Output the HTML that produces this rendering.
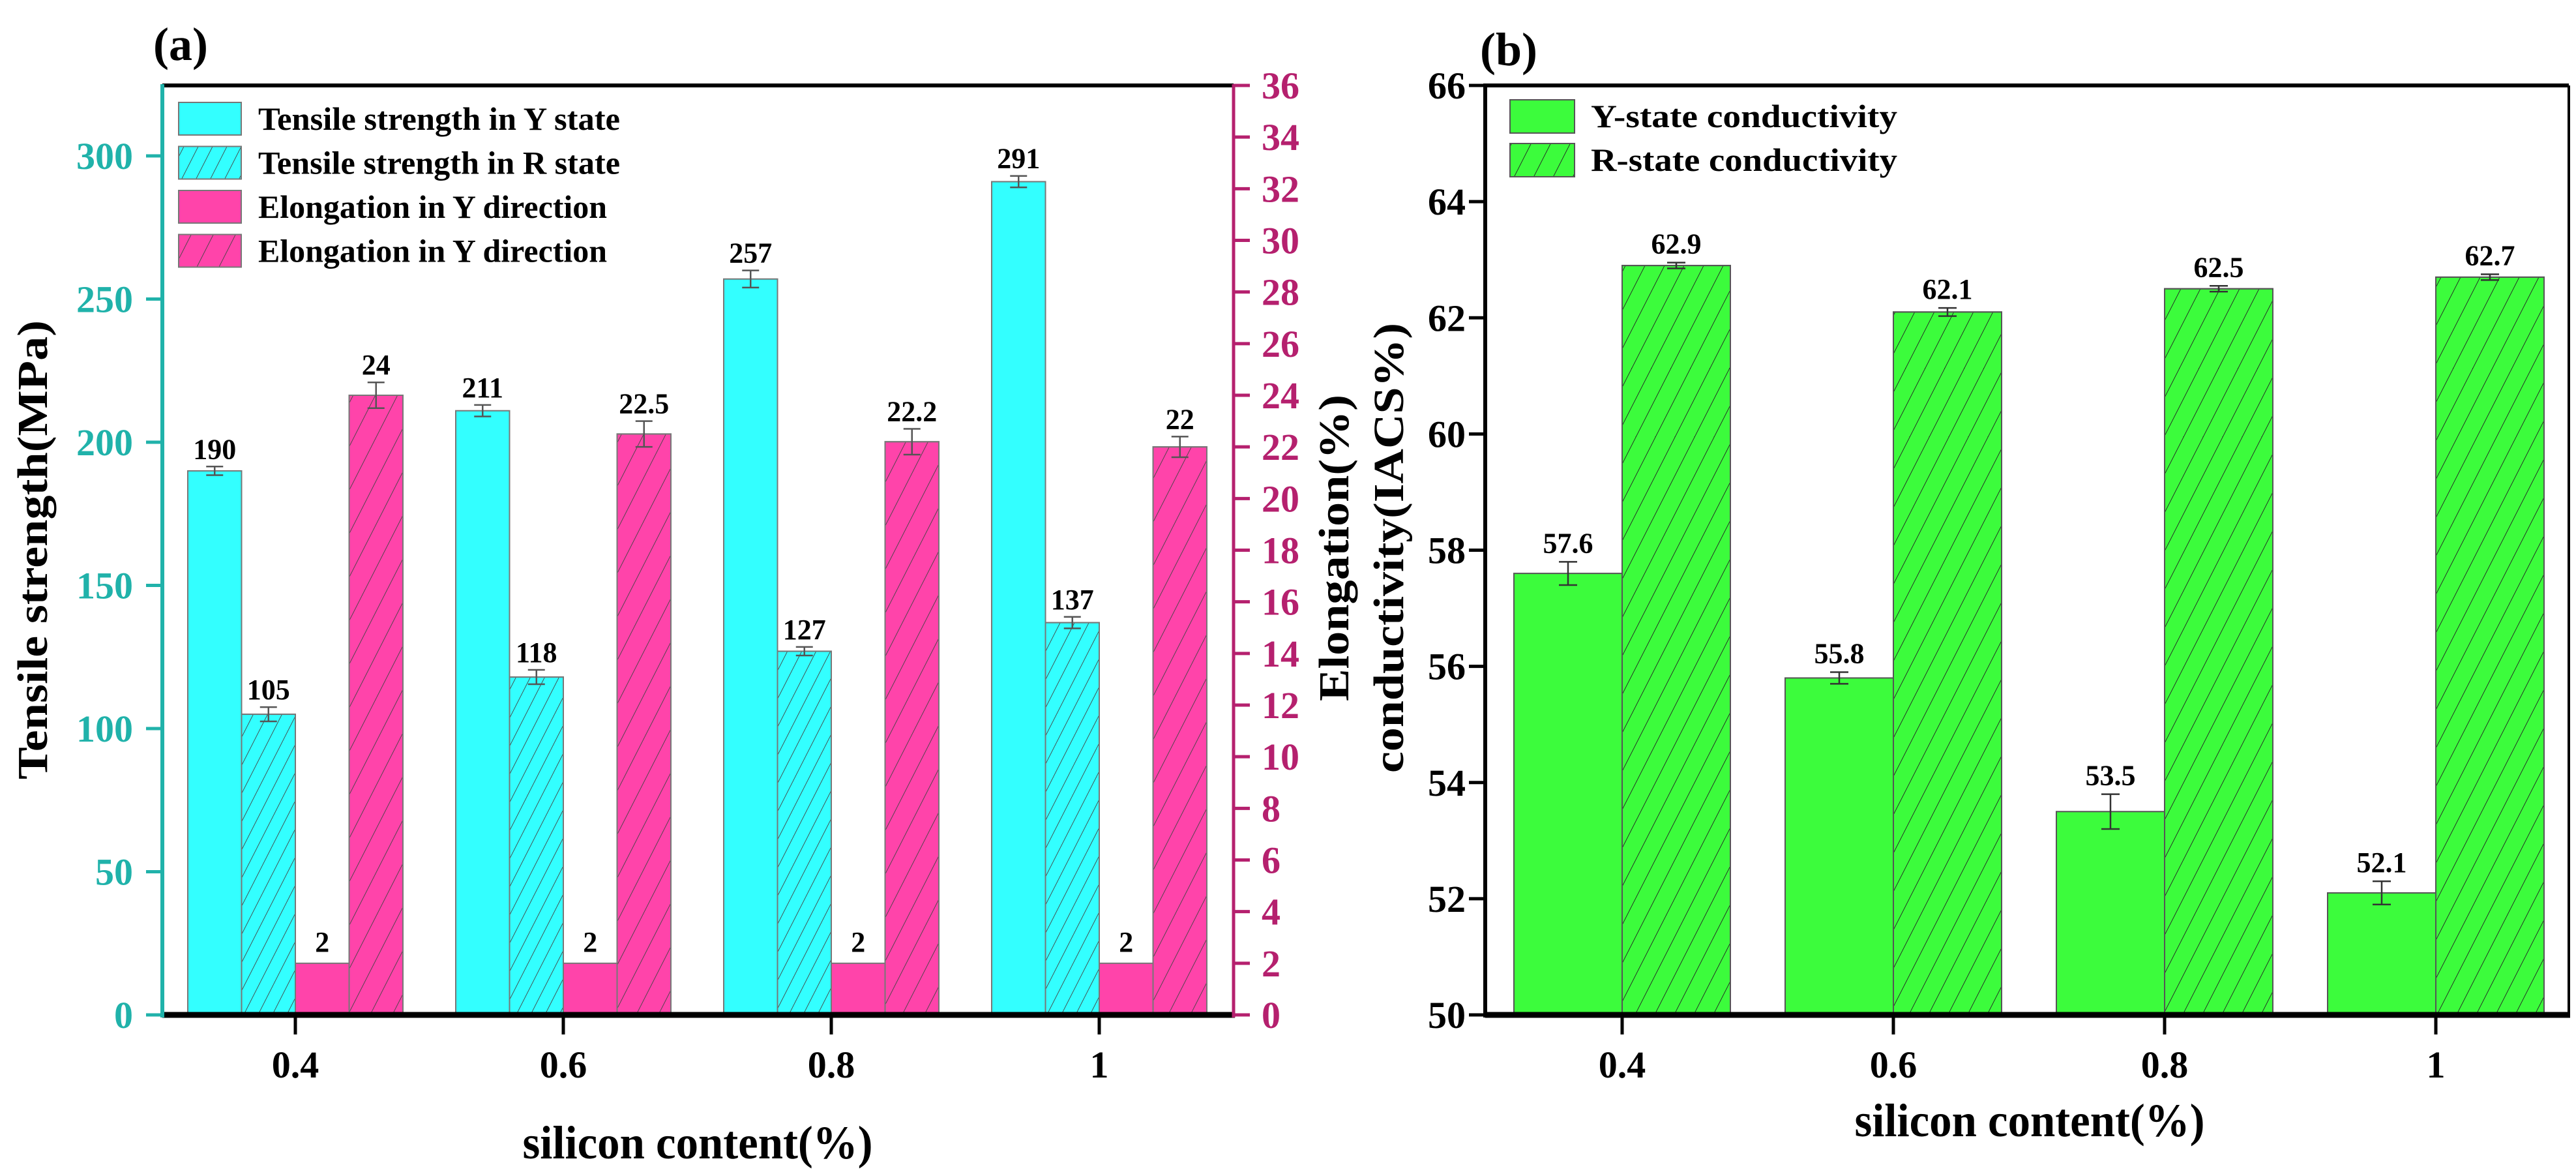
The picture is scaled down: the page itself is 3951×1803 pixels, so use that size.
<!DOCTYPE html>
<html><head><meta charset="utf-8"><style>
html,body{margin:0;padding:0;background:#fff;}
svg, svg text{font-family:"Liberation Serif","DejaVu Serif",serif;font-weight:bold;}
svg{display:block;}
</style></head><body>
<svg id="fig" width="3951" height="1803" viewBox="0 0 3951 1803" xmlns="http://www.w3.org/2000/svg" font-family="Liberation Serif, DejaVu Serif, serif" font-weight="bold">
<defs>
<pattern id="hatchA" patternUnits="userSpaceOnUse" width="22" height="44" patternTransform="skewX(-27)"><line x1="0" y1="0" x2="0" y2="44" stroke="#444" stroke-width="2"/></pattern>
<pattern id="hatchP" patternUnits="userSpaceOnUse" width="34" height="60" patternTransform="skewX(-27)"><line x1="0" y1="0" x2="0" y2="60" stroke="#444" stroke-width="2"/></pattern>
<pattern id="hatchG" patternUnits="userSpaceOnUse" width="30" height="60" patternTransform="skewX(-27)"><line x1="0" y1="0" x2="0" y2="60" stroke="#222" stroke-width="2"/></pattern>
</defs>
<g id="pa"></g>
<g id="pb"></g>
</svg>
<script>
// ---- Panel (a) data ----
const catsA = ["0.4","0.6","0.8","1"];
const tensileY = [190,211,257,291];
const tensileYErr = [1.5,2,3,2];
const tensileR = [105,118,127,137];
const tensileRErr = [2.5,2.5,1.5,2];
const elongY = [2,2,2,2];
const elongR = [24,22.5,22.2,22];
const elongRErr = [0.5,0.5,0.5,0.4];
const leftTicksA = [0,50,100,150,200,250,300];
const rightTicksA = [0,2,4,6,8,10,12,14,16,18,20,22,24,26,28,30,32,34,36];
// ---- Panel (b) data ----
const catsB = ["0.4","0.6","0.8","1"];
const condY = [57.6,55.8,53.5,52.1];
const condYErr = [0.2,0.1,0.3,0.2];
const condR = [62.9,62.1,62.5,62.7];
const condRErr = [0.05,0.07,0.05,0.05];
const ticksB = [50,52,54,56,58,60,62,64,66];

const NS="http://www.w3.org/2000/svg";
function mk(parent,tag,attrs,text){const e=document.createElementNS(NS,tag);for(const k in attrs)e.setAttribute(k,attrs[k]);if(text!==undefined)e.textContent=text;parent.appendChild(e);return e;}

// ===== Panel A =====
const A=document.getElementById('pa');
const aL=249,aR=1892,aT=131,aB=1556;
const yA=v=>aB-(v/324.6)*(aB-aT);
const yE=v=>aB-(v/36)*(aB-aT);
const xA=i=>453+i*411;
const bw=82.5;
function errbar(g,x,y1,y2,w,col){
  let e;
  e=mk(g,'line',{x1:x,x2:x,y1:y1,y2:y2,stroke:col,'stroke-width':2.5});
  
  
  mk(g,'line',{x1:x-w,x2:x+w,y1:y1,y2:y1,stroke:col,'stroke-width':2.5});
  mk(g,'line',{x1:x-w,x2:x+w,y1:y2,y2:y2,stroke:col,'stroke-width':2.5});
}
function label(g,x,y,t,fs){
  const e=mk(g,'text',{x:x,y:y,'text-anchor':'middle','font-size':fs||44,fill:'#000'},t);
  
  
}
function bar(g,x,y,w,h,fill,pat,name){
  const r=mk(g,'rect',{x:x,y:y,width:w,height:h,fill:fill,stroke:'#777','stroke-width':2});
  
  
  if(pat) mk(g,'rect',{x:x,y:y,width:w,height:h,fill:'url(#'+pat+')',stroke:'#777','stroke-width':2});
}
catsA.forEach((c,i)=>{
  const cx=xA(i), x0=cx-2*bw;
  let t=yA(tensileY[i]);
  bar(A,x0,t,bw,aB-t,'#33ffff',null,'bar-tensile-y');
  errbar(A,x0+bw/2,yA(tensileY[i]+tensileYErr[i]),yA(tensileY[i]-tensileYErr[i]),13,'#555');
  label(A,x0+bw/2,yA(tensileY[i]+tensileYErr[i])-12,String(tensileY[i]));
  t=yA(tensileR[i]);
  bar(A,x0+bw,t,bw,aB-t,'#33ffff','hatchA','bar-tensile-r');
  errbar(A,x0+1.5*bw,yA(tensileR[i]+tensileRErr[i]),yA(tensileR[i]-tensileRErr[i]),13,'#555');
  label(A,x0+1.5*bw,yA(tensileR[i]+tensileRErr[i])-12,String(tensileR[i]));
  t=yE(elongY[i]);
  bar(A,x0+2*bw,t,bw,aB-t,'#ff44aa',null,'bar-elongation-y');
  label(A,x0+2.5*bw,t-18,String(elongY[i]));
  t=yE(elongR[i]);
  bar(A,x0+3*bw,t,bw,aB-t,'#ff44aa','hatchP','bar-elongation-r');
  errbar(A,x0+3.5*bw,yE(elongR[i]+elongRErr[i]),yE(elongR[i]-elongRErr[i]),13,'#555');
  label(A,x0+3.5*bw,yE(elongR[i]+elongRErr[i])-12,String(elongR[i]));
  mk(A,'line',{x1:cx,x2:cx,y1:aB,y2:aB+30,stroke:'#000','stroke-width':5});
  const tl=mk(A,'text',{x:cx,y:1652,'text-anchor':'middle','font-size':58},c);
  
  
});
mk(A,'line',{x1:aL,x2:aR,y1:aT,y2:aT,stroke:'#000','stroke-width':6});
mk(A,'line',{x1:aL,x2:aR+2,y1:aB,y2:aB,stroke:'#000','stroke-width':9});
mk(A,'line',{x1:aL,x2:aL,y1:aT-2,y2:aB+4,stroke:'#20b2aa','stroke-width':6});
mk(A,'line',{x1:aR,x2:aR,y1:aT-2,y2:aB+4,stroke:'#b5206e','stroke-width':5});
leftTicksA.forEach(v=>{
  const y=yA(v);
  mk(A,'line',{x1:aL-25,x2:aL,y1:y,y2:y,stroke:'#20b2aa','stroke-width':5});
  const e=mk(A,'text',{x:aL-45,y:y+20,'text-anchor':'end','font-size':58,fill:'#20b2aa'},String(v));
  
  
});
rightTicksA.forEach(v=>{
  const y=yE(v);
  mk(A,'line',{x1:aR,x2:aR+25,y1:y,y2:y,stroke:'#b5206e','stroke-width':5});
  const e=mk(A,'text',{x:aR+43,y:y+20,'text-anchor':'start','font-size':58,fill:'#b5206e'},String(v));
  
  
});
</script>
<script>
(function(){
const A=document.getElementById('pa');
function T(attrs,txt,name){const e=document.createElementNS("http://www.w3.org/2000/svg",'text');for(const k in attrs)e.setAttribute(k,attrs[k]);e.textContent=txt;


A.appendChild(e);return e;}
T({x:235,y:92,'font-size':72},'(a)','panel-a-label');
T({x:0,y:0,'font-size':66,'text-anchor':'middle',transform:'translate(72,843) rotate(-90)',textLength:704,lengthAdjust:'spacingAndGlyphs'},'Tensile strength(MPa)','y-axis-title-left');
T({x:0,y:0,'font-size':66,'text-anchor':'middle',transform:'translate(2068,840) rotate(-90)',textLength:470,lengthAdjust:'spacingAndGlyphs'},'Elongation(%)','y-axis-title-right');
T({x:1070,y:1776,'font-size':72,'text-anchor':'middle',textLength:537,lengthAdjust:'spacingAndGlyphs'},'silicon content(%)','x-axis-title-a');
const leg=[['Tensile strength in Y state','#33ffff',null],['Tensile strength in R state','#33ffff','hatchA'],['Elongation in Y direction','#ff44aa',null],['Elongation in Y direction','#ff44aa','hatchP']];
leg.forEach((l,i)=>{
  const y=157+i*67.5;
  const r=document.createElementNS("http://www.w3.org/2000/svg",'rect');
  r.setAttribute('x',274);r.setAttribute('y',y);r.setAttribute('width',96);r.setAttribute('height',50);r.setAttribute('fill',l[1]);r.setAttribute('stroke','#777');r.setAttribute('stroke-width',2);
  
  
  A.appendChild(r);
  if(l[2]){const h=r.cloneNode();h.setAttribute('fill','url(#'+l[2]+')');A.appendChild(h);}
  T({x:396,y:y+42,'font-size':50,textLength:[555,555,535,535][i],lengthAdjust:'spacingAndGlyphs'},l[0],'legend-entry');
});
})();
</script>
<script>
(function(){
const B=document.getElementById('pb');
const NS="http://www.w3.org/2000/svg";
function mk(parent,tag,attrs,text){const e=document.createElementNS(NS,tag);for(const k in attrs)e.setAttribute(k,attrs[k]);if(text!==undefined)e.textContent=text;parent.appendChild(e);return e;}
const bL=2278,bR=3940,bT=131,bB=1556;
const yB=v=>bB-((v-50)/16)*(bB-bT);
const xB=i=>2488+i*416;
const w=166;
catsB.forEach((c,i)=>{
  const cx=xB(i);
  let t=yB(condY[i]);
  let r=mk(B,'rect',{x:cx-w,y:t,width:w,height:bB-t,fill:'#3cfc3c',stroke:'#555','stroke-width':2});
  
  
  let a=yB(condY[i]+condYErr[i]),b=yB(condY[i]-condYErr[i]);
  mk(B,'line',{x1:cx-w/2,x2:cx-w/2,y1:a,y2:b,stroke:'#333','stroke-width':2.5});
  mk(B,'line',{x1:cx-w/2-14,x2:cx-w/2+14,y1:a,y2:a,stroke:'#333','stroke-width':2.5});
  mk(B,'line',{x1:cx-w/2-14,x2:cx-w/2+14,y1:b,y2:b,stroke:'#333','stroke-width':2.5});
  let e=mk(B,'text',{x:cx-w/2,y:a-14,'text-anchor':'middle','font-size':44},String(condY[i]));
  
  
  t=yB(condR[i]);
  r=mk(B,'rect',{x:cx,y:t,width:w,height:bB-t,fill:'#3cfc3c',stroke:'#555','stroke-width':2});
  
  
  mk(B,'rect',{x:cx,y:t,width:w,height:bB-t,fill:'url(#hatchG)',stroke:'#555','stroke-width':2});
  a=yB(condR[i]+condRErr[i]);b=yB(condR[i]-condRErr[i]);
  mk(B,'line',{x1:cx+w/2,x2:cx+w/2,y1:a,y2:b,stroke:'#333','stroke-width':2.5});
  mk(B,'line',{x1:cx+w/2-14,x2:cx+w/2+14,y1:a,y2:a,stroke:'#333','stroke-width':2.5});
  mk(B,'line',{x1:cx+w/2-14,x2:cx+w/2+14,y1:b,y2:b,stroke:'#333','stroke-width':2.5});
  e=mk(B,'text',{x:cx+w/2,y:a-14,'text-anchor':'middle','font-size':44},String(condR[i]));
  
  
  mk(B,'line',{x1:cx,x2:cx,y1:bB,y2:bB+30,stroke:'#000','stroke-width':5});
  e=mk(B,'text',{x:cx,y:1652,'text-anchor':'middle','font-size':58},c);
  
  
});
mk(B,'line',{x1:bL,x2:bR,y1:bT,y2:bT,stroke:'#000','stroke-width':6});
mk(B,'line',{x1:bR,x2:bR,y1:bT,y2:bB,stroke:'#000','stroke-width':4});
mk(B,'line',{x1:bL,x2:bR+2,y1:bB,y2:bB,stroke:'#000','stroke-width':9});
mk(B,'line',{x1:bL,x2:bL,y1:bT-3,y2:bB+4,stroke:'#000','stroke-width':6});
ticksB.forEach(v=>{
  const y=yB(v);
  mk(B,'line',{x1:bL-25,x2:bL,y1:y,y2:y,stroke:'#000','stroke-width':5});
  const e=mk(B,'text',{x:bL-30,y:y+20,'text-anchor':'end','font-size':58},String(v));
  
  
});
let e=mk(B,'text',{x:2270,y:100,'font-size':72},'(b)');


e=mk(B,'text',{x:0,y:0,'font-size':66,'text-anchor':'middle',transform:'translate(2152,840) rotate(-90)',textLength:690,lengthAdjust:'spacingAndGlyphs'},'conductivity(IACS%)');


e=mk(B,'text',{x:3113,y:1742,'font-size':72,'text-anchor':'middle',textLength:537,lengthAdjust:'spacingAndGlyphs'},'silicon content(%)');


[['Y-state conductivity',null],['R-state conductivity','hatchG']].forEach((l,i)=>{
  const y=153+i*67;
  const r=mk(B,'rect',{x:2316,y:y,width:99,height:51,fill:'#3cfc3c',stroke:'#555','stroke-width':2});
  
  
  if(l[1]) mk(B,'rect',{x:2316,y:y,width:99,height:51,fill:'url(#hatchG)',stroke:'#555','stroke-width':2});
  const t=mk(B,'text',{x:2440,y:y+42,'font-size':50,textLength:470,lengthAdjust:'spacingAndGlyphs'},l[0]);
  
  
});
})();
</script>
</body></html>
